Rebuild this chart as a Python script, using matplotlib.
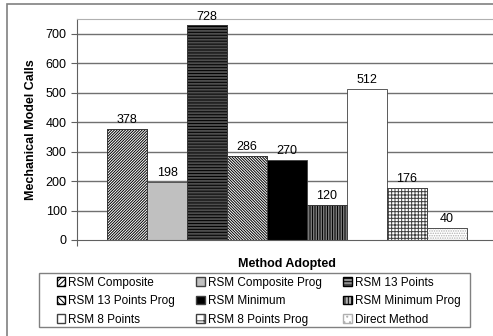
import matplotlib.pyplot as plt
from matplotlib.patches import Rectangle, Patch

methods = ["RSM Composite", "RSM Composite Prog", "RSM 13 Points",
           "RSM 13 Points Prog", "RSM Minimum", "RSM Minimum Prog",
           "RSM 8 Points", "RSM 8 Points Prog", "Direct Method"]
calls = [378, 198, 728, 286, 270, 120, 512, 176, 40]

faces = ["white", "#c0c0c0", "#909090", "white", "black", "#b0b0b0",
         "white", "white", "white"]
hatches = ["////////////", None, "-----------", "\\\\\\\\\\\\\\\\\\\\\\\\", None,
           "||||||||||", None, "+++++", "......."]
hatch_cols = ["black", None, "black", "black", None, "black", None, "#404040", "#b0b0b0"]

plt.rcParams['font.family'] = ['Liberation Sans', 'DejaVu Sans']
plt.rcParams['hatch.linewidth'] = 0.7

fig = plt.figure(figsize=(4.93, 3.36), dpi=100)
fig.patches.append(Rectangle((7 / 493, -0.1), 1.2, 1.1 - 4 / 336, transform=fig.transFigure,
                             fill=False, edgecolor="#808080", lw=1.2, zorder=0))
# legend box
fig.patches.append(Rectangle((39 / 493, 1 - 327 / 336), 431 / 493, 54 / 336,
                             transform=fig.transFigure, fill=False,
                             edgecolor="#808080", lw=1.0, zorder=0))

ax = fig.add_axes([77 / 493, 1 - 240 / 336, 416 / 493, 221 / 336])
ax.set_xlim(-1.25, 9.15)
ax.set_ylim(0, 750)

for y in range(100, 800, 100):
    ax.axhline(y, color="#707070", lw=1.0, zorder=0)

handles = []
for i, (m, v) in enumerate(zip(methods, calls)):
    kw = dict(facecolor=faces[i], edgecolor="#404040", linewidth=0.6, zorder=2)
    if hatches[i]:
        b = ax.bar(i, v, width=1.0, hatch=hatches[i], **kw)
        b[0].set_edgecolor(hatch_cols[i])
        ax.bar(i, v, width=1.0, fill=False, edgecolor="#404040", linewidth=0.6, zorder=3)
        h = Patch(facecolor=faces[i], edgecolor=hatch_cols[i], hatch=hatches[i][:len(hatches[i]) // 2], label=m)
    else:
        ax.bar(i, v, width=1.0, **kw)
        h = Patch(facecolor=faces[i], edgecolor="#404040", label=m)
    handles.append(h)
    ax.text(i, v + 10, str(v), ha="center", va="bottom", fontsize=9)

ax.spines["right"].set_visible(False)
ax.spines["top"].set_color("#b0b0b0")
ax.spines["left"].set_color("#606060")
ax.spines["bottom"].set_color("#606060")
ax.set_xticks([-1.25])
ax.set_xticklabels([""])
ax.tick_params(axis="x", length=4, color="#606060")
ax.set_yticks(range(0, 800, 100))
ax.tick_params(axis="y", labelsize=9, length=4, color="#606060")
ax.set_ylabel("Mechanical Model Calls", fontsize=9, fontweight="bold", labelpad=6)
ax.set_xlabel("Method Adopted", fontsize=9, fontweight="bold", labelpad=8)
ax.xaxis.set_label_coords((287 - 77) / 416, -18 / 221)

# legend rows filled across, like the reference
order = [0, 3, 6, 1, 4, 7, 2, 5, 8]
leg = fig.legend([handles[k] for k in order], [methods[k] for k in order],
                 ncol=3, loc="upper left", bbox_to_anchor=(53 / 493, 1 - 273 / 336),
                 fontsize=8.5, frameon=False, handlelength=0.7,
                 handleheight=0.7, handletextpad=0.3, columnspacing=1.8,
                 labelspacing=0.55, borderpad=0.3, borderaxespad=0)

fig.savefig("out.png", dpi=100)
